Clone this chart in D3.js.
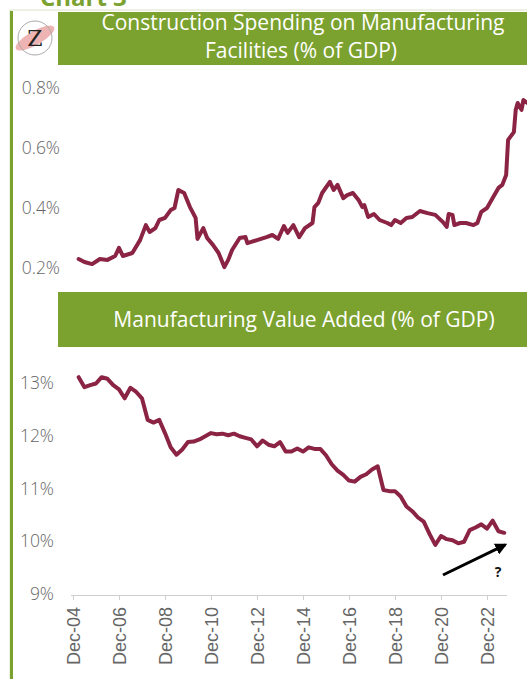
<!DOCTYPE html>
<html>
<head>
<meta charset="utf-8">
<script src="https://cdn.jsdelivr.net/npm/d3@7"></script>
<style>
  body { margin: 0; background: #fff; }
  svg { display: block; font-family: "Open Sans", sans-serif; }
  .ylab { fill: #666; font-size: 17.5px; font-weight: 300; }
  .xaxis text { fill: #666; font-size: 18px; font-weight: 300; }
  .xaxis path, .xaxis line { stroke: #cfcfcf; }
  .hdr { fill: #fff; font-size: 21px; }
</style>
</head>
<body>
<div id="chart"></div>
<script>
// construction spending on manufacturing facilities, % of GDP
var spendDates = ["2005-03","2005-06","2005-10","2006-02","2006-06","2006-10","2006-12","2007-02","2007-07","2007-11",
  "2008-02","2008-04","2008-07","2008-09","2008-12","2009-03","2009-05","2009-07","2009-10","2010-01",
  "2010-04","2010-05","2010-08","2010-10","2011-01","2011-04","2011-07","2011-09","2011-11","2012-03",
  "2012-06","2012-07","2012-12","2013-05","2013-08","2013-11","2014-02","2014-04","2014-07","2014-10",
  "2015-01","2015-05","2015-06","2015-08","2015-10","2016-02","2016-04","2016-06","2016-09","2016-11",
  "2017-02","2017-05","2017-07","2017-08","2017-10","2018-01","2018-04","2018-08","2018-10","2018-12",
  "2019-03","2019-06","2019-09","2020-01","2020-05","2020-09","2021-01","2021-03","2021-04","2021-06",
  "2021-07","2021-10","2022-01","2022-05","2022-07","2022-09","2022-12","2023-03","2023-06","2023-08",
  "2023-10","2023-11","2024-02","2024-03","2024-04","2024-06","2024-07","2024-09"];
var spendValues = [0.23,0.22,0.213,0.23,0.227,0.24,0.267,0.24,0.25,0.293,
  0.343,0.32,0.333,0.36,0.367,0.393,0.40,0.46,0.45,0.403,
  0.367,0.297,0.333,0.30,0.277,0.25,0.203,0.227,0.26,0.30,
  0.303,0.283,0.293,0.303,0.31,0.297,0.34,0.317,0.343,0.303,
  0.333,0.35,0.403,0.417,0.45,0.487,0.46,0.477,0.433,0.443,
  0.45,0.427,0.403,0.41,0.37,0.38,0.36,0.35,0.343,0.36,
  0.35,0.367,0.37,0.39,0.383,0.377,0.353,0.337,0.38,0.377,
  0.343,0.35,0.35,0.343,0.35,0.387,0.40,0.433,0.467,0.477,
  0.51,0.627,0.653,0.727,0.75,0.727,0.76,0.75];

// manufacturing value added, % of GDP (quarterly, Q1 2005 .. Q3 2023)
var mvaStart = "2005-03";
var mvaValues = [13.11,12.92,12.96,12.99,13.11,13.08,12.96,12.88,12.71,12.91,
  12.83,12.71,12.30,12.25,12.30,12.05,11.78,11.64,11.74,11.88,
  11.89,11.93,11.99,12.05,12.03,12.04,12.01,12.04,11.99,11.96,
  11.93,11.80,11.91,11.83,11.80,11.88,11.70,11.70,11.76,11.70,
  11.78,11.75,11.75,11.63,11.46,11.34,11.26,11.15,11.13,11.22,
  11.27,11.36,11.42,10.97,10.95,10.95,10.85,10.66,10.57,10.45,
  10.37,10.14,9.93,10.10,10.04,10.02,9.96,9.99,10.21,10.26,
  10.32,10.24,10.39,10.19,10.16];

var xTickDates = ["2004-12","2006-12","2008-12","2010-12","2012-12","2014-12","2016-12","2018-12","2020-12","2022-12"];
var topTicks = [0.2, 0.4, 0.6, 0.8];
var botTicks = [9, 10, 11, 12, 13];
var arrowFrom = ["2021-01", 9.36];
var arrowTo = ["2023-11", 9.96];

var W = 527, H = 679;
var green = "#7ba12f", wine = "#8b2444";
var parse = d3.timeParse("%Y-%m");
var fmtTick = d3.timeFormat("Dec-%y");

var svg = d3.select("#chart").append("svg").attr("width", W).attr("height", H);

// x scale shared by both panels
var x = d3.scaleTime()
  .domain([parse("2004-12"), parse("2022-12")])
  .range([73, 487]);

// frame bits (title above is cut off in the original too)
svg.append("text").attr("x", 40).attr("y", 6)
  .style("font-size", "24px").style("font-weight", 700).style("fill", green)
  .text("Chart 3");
svg.append("rect").attr("x", 10).attr("y", 10).attr("width", W).attr("height", H)
  .attr("fill", "none").attr("stroke", "#d9e3c8").attr("stroke-width", 1);
svg.append("rect").attr("x", 10).attr("y", 11).attr("width", 3).attr("height", H)
  .attr("fill", green);

// logo
var logo = svg.append("g").attr("transform", "translate(35,38)");
logo.append("ellipse").attr("rx", 22).attr("ry", 7)
  .attr("transform", "rotate(-30)").attr("fill", "#eaa0a0").attr("opacity", 0.8);
logo.append("circle").attr("r", 17).attr("fill", "none").attr("stroke", "#aaa").attr("stroke-width", 1);
logo.append("text").attr("text-anchor", "middle").attr("y", 8)
  .style("font-family", "'DejaVu Serif', serif").style("font-size", "22px").style("fill", "#222")
  .text("Z");

// headers
svg.append("rect").attr("x", 58).attr("y", 12).attr("width", W - 58).attr("height", 53).attr("fill", green);
svg.append("text").attr("class", "hdr").attr("x", 303).attr("y", 30).attr("text-anchor", "middle")
  .text("Construction Spending on Manufacturing");
svg.append("text").attr("class", "hdr").attr("x", 301).attr("y", 58).attr("text-anchor", "middle")
  .text("Facilities (% of GDP)");

svg.append("rect").attr("x", 58).attr("y", 292).attr("width", W - 58).attr("height", 55).attr("fill", green);
svg.append("text").attr("class", "hdr").attr("x", 304).attr("y", 327).attr("text-anchor", "middle")
  .text("Manufacturing Value Added (% of GDP)");

// top panel
var yTop = d3.scaleLinear().domain([0.2, 0.8]).range([268, 88]);
svg.selectAll(".ytop").data(topTicks).enter().append("text")
  .attr("class", "ylab").attr("x", 60).attr("y", function(d) { return yTop(d) + 6; })
  .attr("text-anchor", "end")
  .text(function(d) { return d.toFixed(1) + "%"; });

var spend = spendDates.map(function(d, i) { return { date: parse(d), v: spendValues[i] }; });
svg.append("path").datum(spend)
  .attr("fill", "none").attr("stroke", wine).attr("stroke-width", 4)
  .attr("stroke-linejoin", "round").attr("stroke-linecap", "round")
  .attr("d", d3.line().x(function(d) { return x(d.date); }).y(function(d) { return yTop(d.v); }));

// bottom panel
var yBot = d3.scaleLinear().domain([9, 13]).range([594, 383]);
svg.selectAll(".ybot").data(botTicks).enter().append("text")
  .attr("class", "ylab").attr("x", 54).attr("y", function(d) { return yBot(d) + 6; })
  .attr("text-anchor", "end")
  .text(function(d) { return d + "%"; });

var xAxis = d3.axisBottom(x)
  .tickValues(xTickDates.map(parse))
  .tickFormat(fmtTick)
  .tickSize(5)
  .tickSizeOuter(0);
var xg = svg.append("g").attr("class", "xaxis").attr("transform", "translate(0,595)").call(xAxis);
xg.select(".domain").attr("d", "M71,0.5H507");
xg.selectAll("text")
  .attr("transform", "rotate(-90)")
  .attr("text-anchor", "end")
  .attr("x", -12).attr("y", 0).attr("dy", "0.35em");

var q0 = parse(mvaStart);
var mva = mvaValues.map(function(v, i) { return { date: d3.timeMonth.offset(q0, i * 3), v: v }; });
svg.append("path").datum(mva)
  .attr("fill", "none").attr("stroke", wine).attr("stroke-width", 4)
  .attr("stroke-linejoin", "round").attr("stroke-linecap", "round")
  .attr("d", d3.line().x(function(d) { return x(d.date); }).y(function(d) { return yBot(d.v); }));

// arrow + question mark
svg.append("defs").append("marker").attr("id", "ah")
  .attr("viewBox", "0 0 10 10").attr("refX", 8).attr("refY", 5)
  .attr("markerWidth", 4).attr("markerHeight", 4).attr("orient", "auto")
  .append("path").attr("d", "M0,0L10,5L0,10z").attr("fill", "#000");
var ax1 = x(parse(arrowFrom[0])), ay1 = yBot(arrowFrom[1]);
var ax2 = x(parse(arrowTo[0])), ay2 = yBot(arrowTo[1]);
svg.append("line").attr("x1", ax1).attr("y1", ay1).attr("x2", ax2 - 3).attr("y2", ay2 + 1.5)
  .attr("stroke", "#000").attr("stroke-width", 3).attr("marker-end", "url(#ah)");
svg.append("text").attr("x", 498).attr("y", 577).attr("text-anchor", "middle")
  .style("font-size", "14px").style("font-weight", 700).style("fill", "#111")
  .text("?");
</script>
</body>
</html>
